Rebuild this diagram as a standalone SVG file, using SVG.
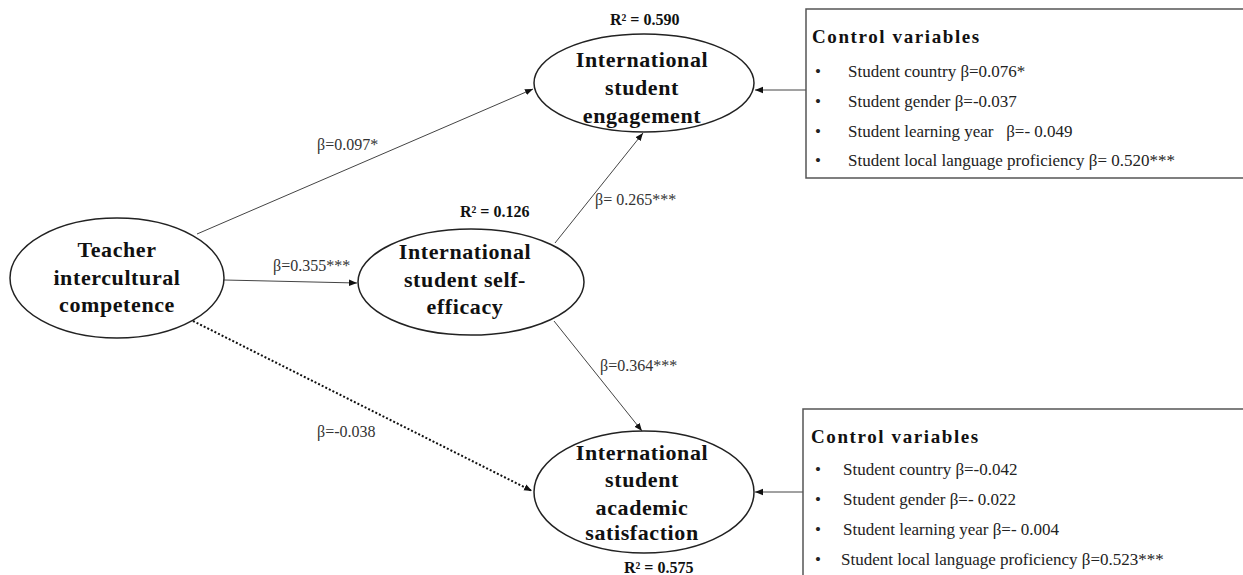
<svg xmlns="http://www.w3.org/2000/svg" width="1243" height="575" viewBox="0 0 1243 575">
<defs>
<marker id="arr" viewBox="0 0 10 10" refX="10" refY="5" markerWidth="8" markerHeight="8" markerUnits="userSpaceOnUse" orient="auto">
<path d="M0,1 L10,5 L0,9 z" fill="#111"/>
</marker>
</defs>
<style>
.node ellipse{fill:#fff;stroke:#222;stroke-width:1.5}
.nt{font-family:"Liberation Serif",serif;font-weight:bold;font-size:22px;letter-spacing:0.6px;fill:#111;text-anchor:middle}
.lbl{font-family:"Liberation Serif",serif;font-size:16px;fill:#333}
.r2{font-family:"Liberation Serif",serif;font-weight:bold;font-size:16px;fill:#111}
.edge{stroke:#444;stroke-width:1;fill:none;marker-end:url(#arr)}
.dot{stroke:#111;stroke-width:2;stroke-dasharray:2 2;fill:none;marker-end:url(#arr)}
.box rect{fill:#fff;stroke:#555;stroke-width:1.5}
.bh{font-family:"Liberation Serif",serif;font-weight:bold;font-size:19px;letter-spacing:1.6px;fill:#111}
.bi{font-family:"Liberation Serif",serif;font-size:17px;fill:#222}
</style>
<rect width="1243" height="575" fill="#fff"/>
<g id="connectors">
<line class="edge" x1="197" y1="234" x2="533" y2="89"/>
<line class="edge" x1="224" y1="280" x2="357" y2="283"/>
<line class="dot" x1="193" y1="321" x2="532" y2="491"/>
<line class="edge" x1="555" y1="243" x2="643" y2="133"/>
<line class="edge" x1="554" y1="321" x2="642" y2="431"/>
<line class="edge" x1="806" y1="90" x2="755" y2="90"/>
<line class="edge" x1="803" y1="492" x2="755" y2="492"/>
</g>
<g id="edge-labels">
<text class="lbl" x="317" y="150">β=0.097*</text>
<text class="lbl" x="273" y="271">β=0.355***</text>
<text class="lbl" x="317" y="437">β=-0.038</text>
<text class="lbl" x="595" y="205">β= 0.265***</text>
<text class="lbl" x="600" y="371">β=0.364***</text>
<text class="r2" x="610" y="25">R² = 0.590</text>
<text class="r2" x="460" y="217">R² = 0.126</text>
<text class="r2" x="624" y="573">R² = 0.575</text>
</g>
<g id="teacher" class="node">
<ellipse cx="117" cy="278" rx="107" ry="60"/>
<text class="nt" x="117" y="257">Teacher</text>
<text class="nt" x="117" y="285">intercultural</text>
<text class="nt" x="117" y="312">competence</text>
</g>
<g id="selfefficacy" class="node">
<ellipse cx="471" cy="282" rx="113" ry="53"/>
<text class="nt" x="465" y="259">International</text>
<text class="nt" x="465" y="287">student  self-</text>
<text class="nt" x="465" y="314">efficacy</text>
</g>
<g id="engagement" class="node">
<ellipse cx="644" cy="83" rx="110" ry="49"/>
<text class="nt" x="642" y="67">International</text>
<text class="nt" x="642" y="95">student</text>
<text class="nt" x="642" y="123">engagement</text>
</g>
<g id="satisfaction" class="node">
<ellipse cx="644" cy="492" rx="110" ry="61"/>
<text class="nt" x="642" y="460">International</text>
<text class="nt" x="642" y="487">student</text>
<text class="nt" x="642" y="515">academic</text>
<text class="nt" x="642" y="540">satisfaction</text>
</g>
<g id="controls-top" class="box">
<rect x="806" y="9" width="440" height="169"/>
<text class="bh" x="812" y="43">Control variables</text>
<text class="bi" x="815" y="77">•</text>
<text class="bi" x="848" y="77">Student country β=0.076*</text>
<text class="bi" x="815" y="107">•</text>
<text class="bi" x="848" y="107">Student gender β=-0.037</text>
<text class="bi" x="815" y="137">•</text>
<text class="bi" x="848" y="137" xml:space="preserve">Student learning year   β=- 0.049</text>
<text class="bi" x="815" y="166">•</text>
<text class="bi" x="848" y="166">Student local language proficiency β= 0.520***</text>
</g>
<g id="controls-bottom" class="box">
<rect x="803" y="409" width="445" height="180"/>
<text class="bh" x="811" y="443">Control variables</text>
<text class="bi" x="815" y="475">•</text>
<text class="bi" x="843" y="475">Student country β=-0.042</text>
<text class="bi" x="815" y="505">•</text>
<text class="bi" x="843" y="505">Student gender β=- 0.022</text>
<text class="bi" x="815" y="535">•</text>
<text class="bi" x="843" y="535">Student learning year β=- 0.004</text>
<text class="bi" x="815" y="565">•</text>
<text class="bi" x="841" y="565">Student local language proficiency β=0.523***</text>
</g>
</svg>
